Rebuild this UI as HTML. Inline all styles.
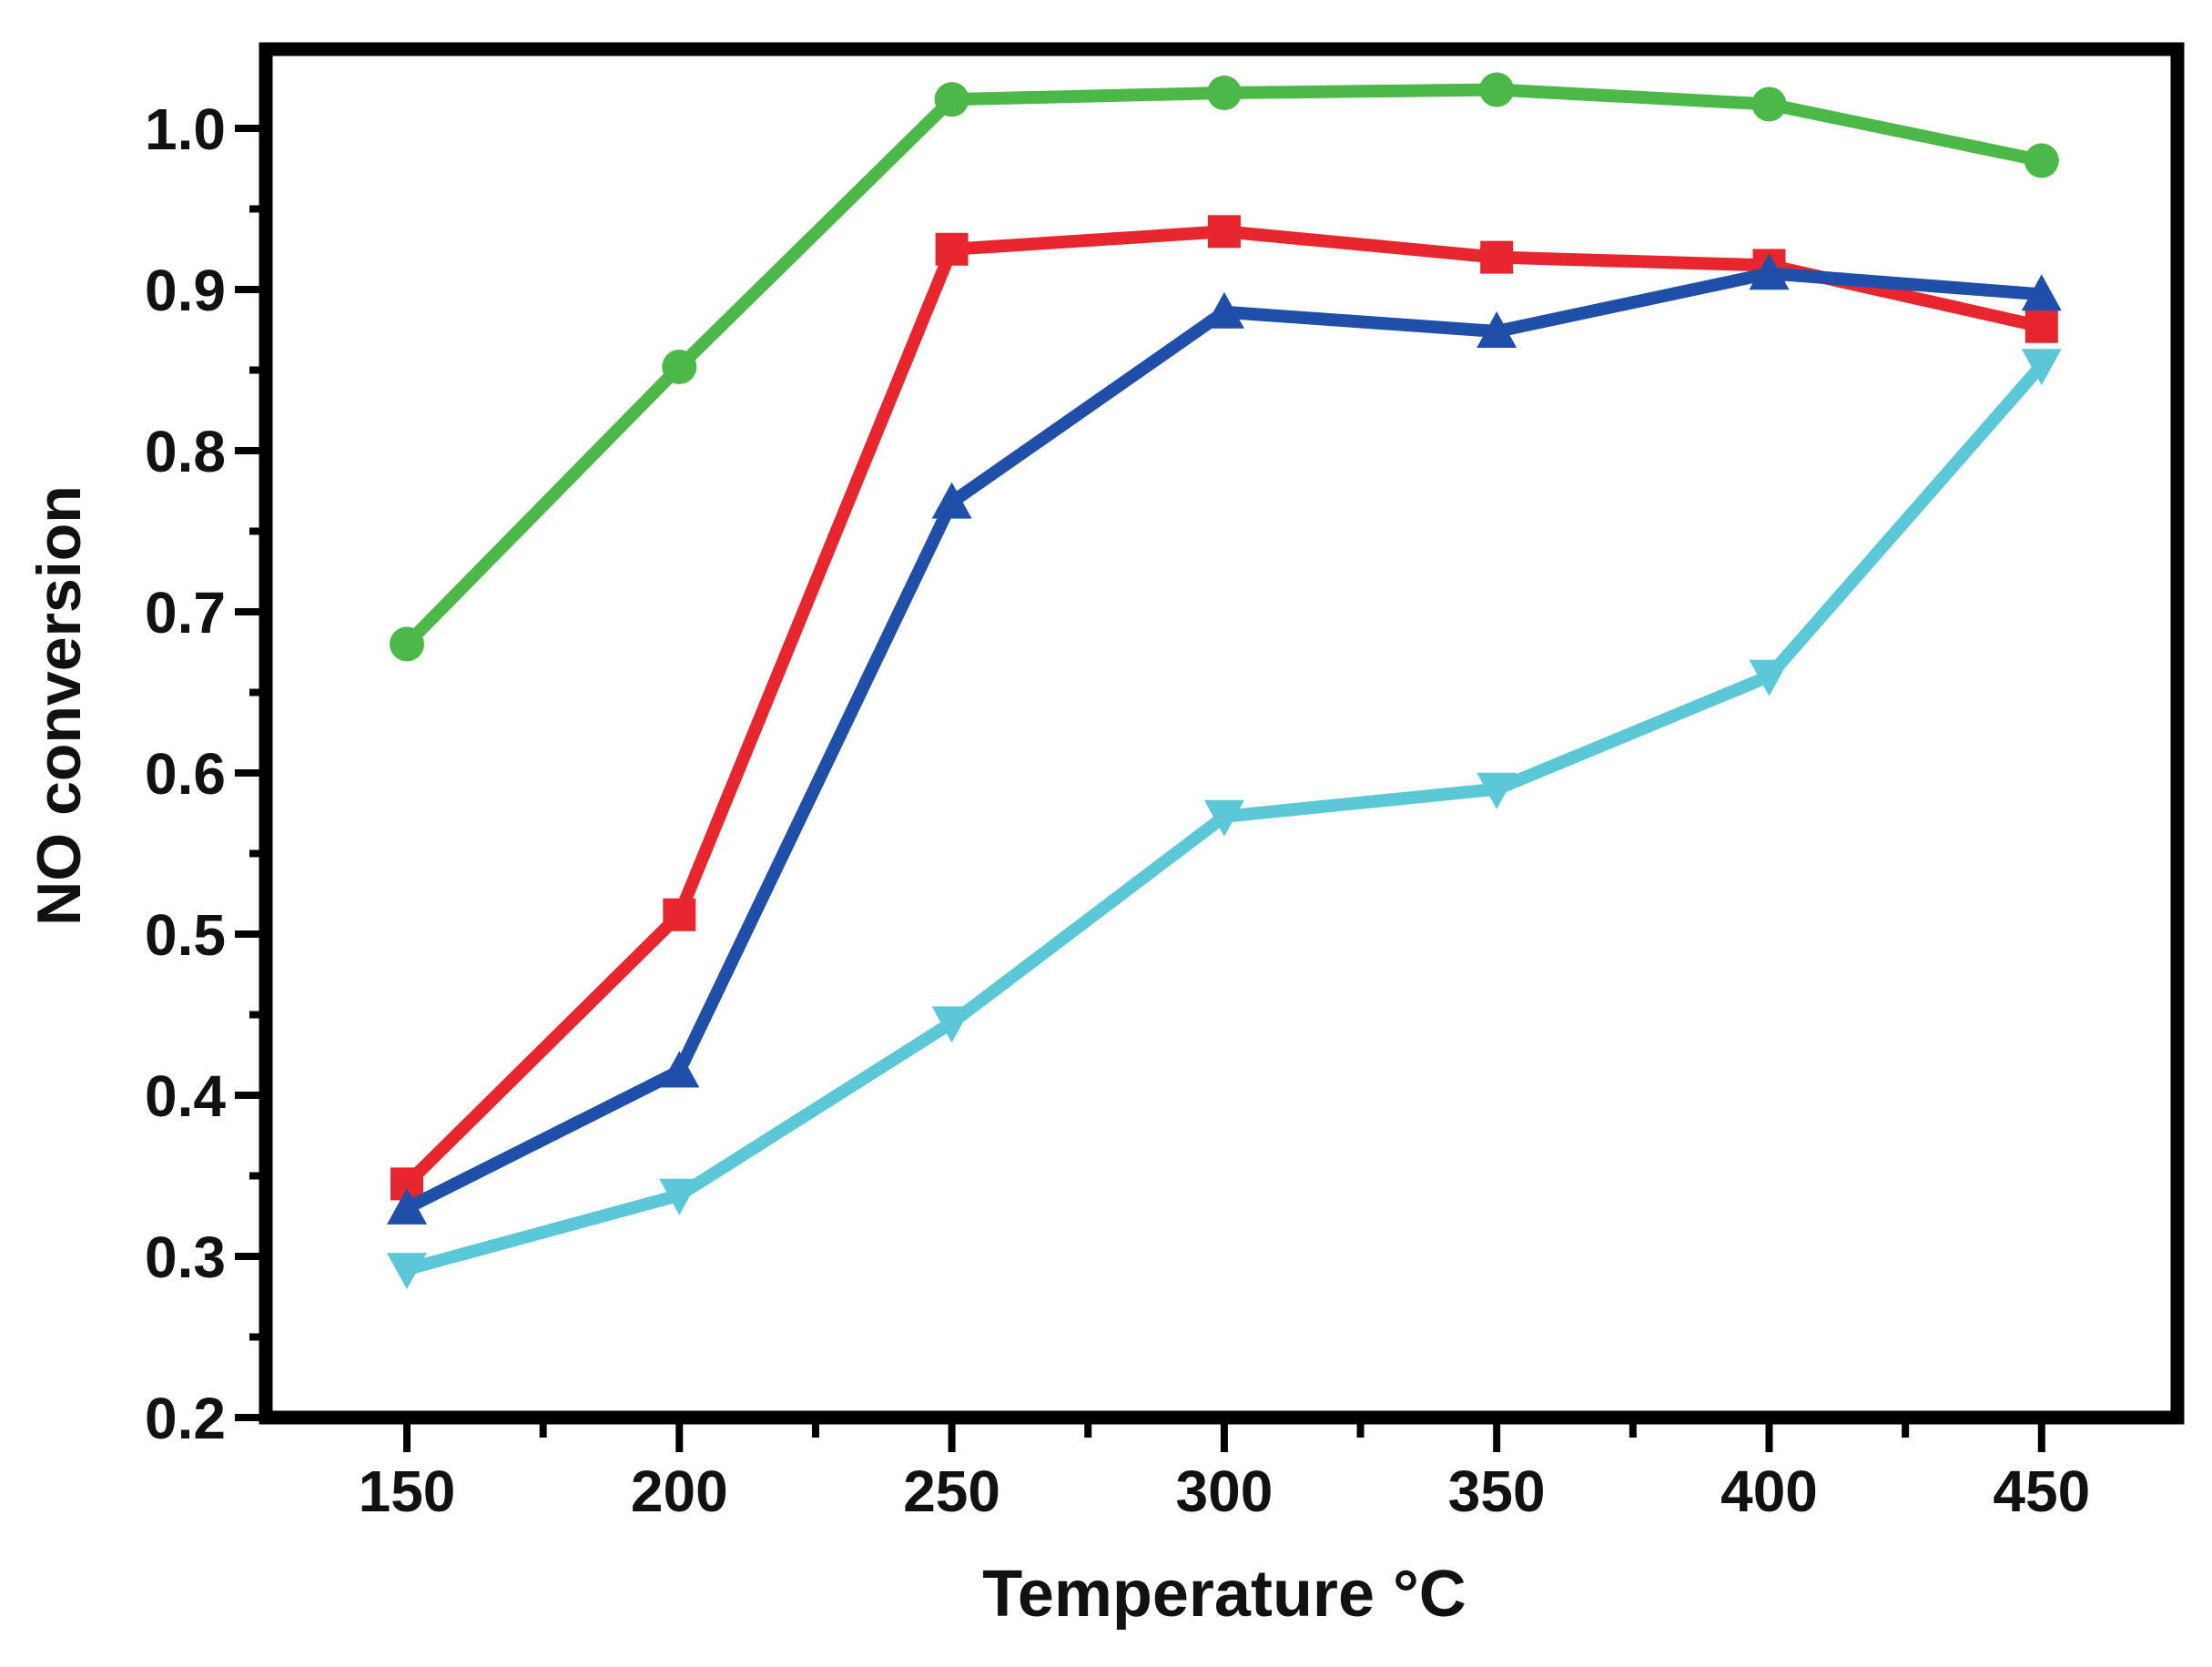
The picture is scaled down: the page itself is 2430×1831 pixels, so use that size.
<!DOCTYPE html>
<html><head><meta charset="utf-8"><style>html,body{margin:0;padding:0;background:#fff}</style></head>
<body>
<svg width="2430" height="1826" viewBox="0 0 2430 1826" xmlns="http://www.w3.org/2000/svg" font-family="Liberation Sans, sans-serif" font-weight="bold">
<rect width="2430" height="1826" fill="#fff"/>
<g id="ticks" stroke="#000" stroke-width="8"></g>
<rect x="292" y="54" width="2100" height="1503" fill="none" stroke="#000" stroke-width="15"/>
<g id="data"></g>
<g id="labels" font-size="64" fill="#111"></g>
<text x="1345" y="1775" font-size="72" text-anchor="middle" fill="#111">Temperature °C</text>
<text transform="translate(88,775) rotate(-90)" font-size="68" text-anchor="middle" fill="#111">NO conversion</text>
<script>
const X=t=>447+(t-150)*299.3/50, Y=v=>1557-(v-0.2)*1770;
const ns="http://www.w3.org/2000/svg";
const tk=document.getElementById('ticks'), lb=document.getElementById('labels'), dg=document.getElementById('data');
function el(p,n,a,txt){const e=document.createElementNS(ns,n);for(const k in a)e.setAttribute(k,a[k]);if(txt)e.textContent=txt;p.appendChild(e);return e;}
for(let i=0;i<=8;i++){const v=0.2+i*0.1,y=Y(v);
 el(tk,'line',{x1:258,x2:292,y1:y,y2:y});
 el(lb,'text',{x:248,y:y+23,'text-anchor':'end'},v.toFixed(1));
 if(i<8){const ym=Y(v+0.05);el(tk,'line',{x1:274,x2:292,y1:ym,y2:ym});}
}
for(let t=150;t<=450;t+=50){const x=X(t);
 el(tk,'line',{x1:x,x2:x,y1:1557,y2:1595});
 el(lb,'text',{x:x,y:1660,'text-anchor':'middle'},String(t));
}
for(let t=125;t<=525;t+=50){const x=X(t);if(x>300&&x<2385)el(tk,'line',{x1:x,x2:x,y1:1557,y2:1579});}
const T=[150,200,250,300,350,400,450];
const S=[
 {c:'#4cb848',m:'c',d:[0.68,0.852,1.018,1.022,1.024,1.015,0.98]},
 {c:'#e8262d',m:'s',d:[0.345,0.512,0.925,0.936,0.92,0.915,0.877]},
 {c:'#1f4fa8',m:'u',d:[0.33,0.415,0.768,0.886,0.874,0.91,0.897]},
 {c:'#5bc8d8',m:'d',d:[0.292,0.338,0.445,0.573,0.59,0.66,0.853]}];
S.forEach(s=>{
 el(dg,'polyline',{points:s.d.map((v,i)=>X(T[i])+','+Y(v)).join(' '),fill:'none',stroke:s.c,'stroke-width':14,'stroke-linejoin':'round'});
 s.d.forEach((v,i)=>{const x=X(T[i]),y=Y(v),r=18;
  if(s.m=='c')el(dg,'circle',{cx:x,cy:y,r:r+1,fill:s.c});
  else if(s.m=='s')el(dg,'rect',{x:x-r,y:y-r,width:2*r,height:2*r,fill:s.c});
  else if(s.m=='u')el(dg,'polygon',{points:`${x},${y-r-4} ${x-r-4},${y+r} ${x+r+4},${y+r}`,fill:s.c});
  else el(dg,'polygon',{points:`${x},${y+r+4} ${x-r-4},${y-r} ${x+r+4},${y-r}`,fill:s.c});
 });
});
</script>
</svg>
</body></html>
